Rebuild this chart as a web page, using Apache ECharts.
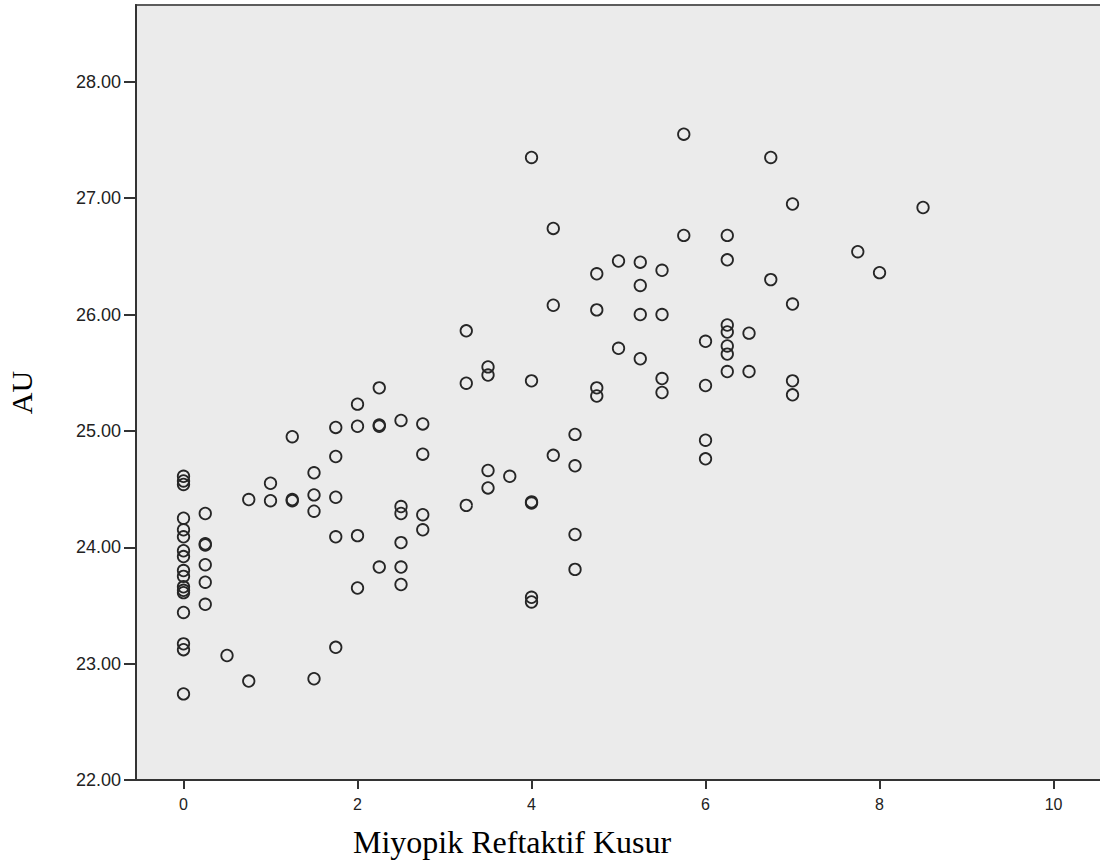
<!DOCTYPE html>
<html>
<head>
<meta charset="utf-8">
<script src="https://cdn.jsdelivr.net/npm/echarts@6/dist/echarts.min.js"></script>
<style>
  html, body { margin: 0; padding: 0; background: #ffffff; overflow: hidden; }
  #chart { width: 1100px; height: 865px; }
</style>
</head>
<body>
<div id="chart"></div>
<script>
// Refraction levels (diopters) and the AU readings observed at each level
const refractionLevels = [0, 0.25, 0.5, 0.75, 1, 1.25, 1.5, 1.75, 2, 2.25, 2.5, 2.75,
  3.25, 3.5, 3.75, 4, 4.25, 4.5, 4.75, 5, 5.25, 5.5, 5.75, 6, 6.25, 6.5, 6.75, 7, 7.75, 8, 8.5];

const auAt0 = [24.61, 24.57, 24.54, 24.25, 24.15, 24.09, 23.97, 23.92, 23.80, 23.75,
  23.66, 23.63, 23.61, 23.44, 23.17, 23.12, 22.74];
const auAt025 = [24.29, 24.03, 24.02, 23.85, 23.70, 23.51];
const auAt05 = [23.07];
const auAt075 = [24.41, 22.85];
const auAt1 = [24.55, 24.40];
const auAt125 = [24.95, 24.41, 24.40];
const auAt15 = [24.64, 24.45, 24.31, 22.87];
const auAt175 = [25.03, 24.78, 24.43, 24.09, 23.14];
const auAt2 = [25.23, 25.04, 24.10, 23.65];
const auAt225 = [25.37, 25.05, 25.04, 23.83];
const auAt25 = [25.09, 24.35, 24.29, 24.04, 23.83, 23.68];
const auAt275 = [25.06, 24.80, 24.28, 24.15];
const auAt325 = [25.86, 25.41, 24.36];
const auAt35 = [25.55, 25.48, 24.66, 24.51];
const auAt375 = [24.61];
const auAt4 = [27.35, 25.43, 24.39, 24.38, 23.57, 23.53];
const auAt425 = [26.74, 26.08, 24.79];
const auAt45 = [24.97, 24.70, 24.11, 23.81];
const auAt475 = [26.35, 26.04, 25.37, 25.30];
const auAt5 = [26.46, 25.71];
const auAt525 = [26.45, 26.25, 26.00, 25.62];
const auAt55 = [26.38, 26.00, 25.45, 25.33];
const auAt575 = [27.55, 26.68];
const auAt6 = [25.77, 25.39, 24.92, 24.76];
const auAt625 = [26.68, 26.47, 25.91, 25.85, 25.73, 25.66, 25.51];
const auAt65 = [25.84, 25.51];
const auAt675 = [27.35, 26.30];
const auAt7 = [26.95, 26.09, 25.43, 25.31];
const auAt775 = [26.54];
const auAt8 = [26.36];
const auAt85 = [26.92];

const auByLevel = [auAt0, auAt025, auAt05, auAt075, auAt1, auAt125, auAt15, auAt175,
  auAt2, auAt225, auAt25, auAt275, auAt325, auAt35, auAt375, auAt4, auAt425, auAt45,
  auAt475, auAt5, auAt525, auAt55, auAt575, auAt6, auAt625, auAt65, auAt675, auAt7,
  auAt775, auAt8, auAt85];

const xTickValues = [0, 2, 4, 6, 8, 10];
const yTickValues = [22, 23, 24, 25, 26, 27, 28];

const xTitle = 'Miyopik Reftaktif Kusur';
const yTitle = 'AU';

// Flatten into [refraction, AU] pairs for the scatter series
const points = [];
refractionLevels.forEach(function (level, i) {
  auByLevel[i].forEach(function (au) { points.push([level, au]); });
});

const chart = echarts.init(document.getElementById('chart'), null, { renderer: 'svg' });

const labelFont = '"Liberation Sans", Arial, sans-serif';
const titleFont = '"Liberation Serif", "Times New Roman", serif';

chart.setOption({
  backgroundColor: '#ffffff',
  animation: false,
  title: {
    text: xTitle,
    left: 353,
    top: 826,
    padding: 0,
    textStyle: { fontFamily: titleFont, fontSize: 32, fontWeight: 'normal', color: '#000000' }
  },
  grid: {
    left: 136,
    top: 5,
    right: -4,
    bottom: 85,
    outerBoundsMode: 'none',
    containLabel: false,
    show: true,
    backgroundColor: '#ebebeb',
    borderColor: '#5c5c5c',
    borderWidth: 2
  },
  xAxis: {
    type: 'value',
    min: -0.546,
    max: 10.58,
    splitLine: { show: false },
    axisLine: { show: true, onZero: false, lineStyle: { color: '#333333', width: 2 } },
    axisTick: { show: true, length: 9, customValues: xTickValues, lineStyle: { color: '#333333', width: 2 } },
    axisLabel: {
      customValues: xTickValues,
      margin: 16,
      fontFamily: labelFont,
      fontSize: 16,
      color: '#222222',
      formatter: function (v) { return String(v); }
    }
  },
  yAxis: {
    type: 'value',
    min: 22,
    max: 28.66,
    name: yTitle,
    nameLocation: 'middle',
    nameRotate: 90,
    nameGap: 100,
    nameTextStyle: { fontFamily: titleFont, fontSize: 30, color: '#000000' },
    splitLine: { show: false },
    axisLine: { show: true, onZero: false, lineStyle: { color: '#333333', width: 2 } },
    axisTick: { show: true, length: 12, customValues: yTickValues, lineStyle: { color: '#333333', width: 2 } },
    axisLabel: {
      customValues: yTickValues,
      margin: 15,
      fontFamily: labelFont,
      fontSize: 18,
      color: '#222222',
      formatter: function (v) { return v.toFixed(2); }
    }
  },
  series: [{
    type: 'scatter',
    data: points,
    symbol: 'circle',
    symbolSize: 11.5,
    itemStyle: { color: 'rgba(0,0,0,0)', borderColor: '#262626', borderWidth: 1.8, opacity: 1 },
    emphasis: { disabled: true }
  }]
});
</script>
</body>
</html>
